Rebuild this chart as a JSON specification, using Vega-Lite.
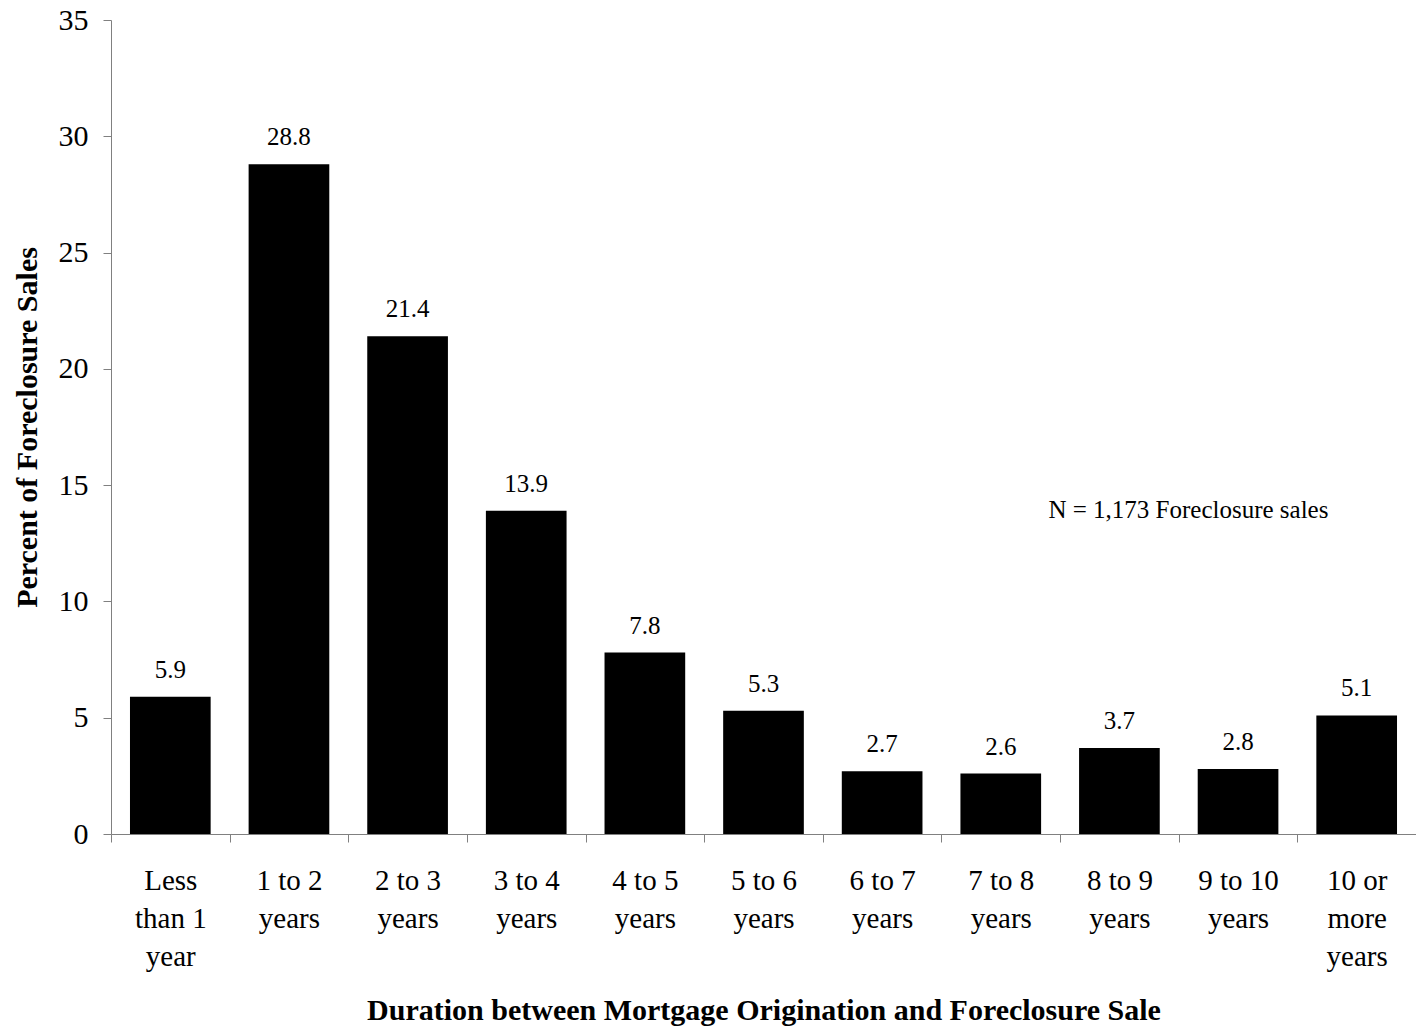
{
  "$schema": "https://vega.github.io/schema/vega-lite/v6.json",
  "width": 1305,
  "height": 814,
  "autosize": {"type": "none"},
  "padding": {"left": 111, "top": 20, "right": 0, "bottom": 194},
  "background": "white",
  "config": {
    "view": {"stroke": null},
    "font": "Liberation Serif",
    "axis": {"grid": false, "domainColor": "#808080", "tickColor": "#808080", "labelColor": "black", "titleColor": "black"}
  },
  "data": {
    "values": [
      {"duration": "Less|than 1|year", "pct": 5.9},
      {"duration": "1 to 2|years", "pct": 28.8},
      {"duration": "2 to 3|years", "pct": 21.4},
      {"duration": "3 to 4|years", "pct": 13.9},
      {"duration": "4 to 5|years", "pct": 7.8},
      {"duration": "5 to 6|years", "pct": 5.3},
      {"duration": "6 to 7|years", "pct": 2.7},
      {"duration": "7 to 8|years", "pct": 2.6},
      {"duration": "8 to 9|years", "pct": 3.7},
      {"duration": "9 to 10|years", "pct": 2.8},
      {"duration": "10 or|more|years", "pct": 5.1}
    ]
  },
  "encoding": {
    "x": {
      "field": "duration",
      "type": "nominal",
      "sort": null,
      "scale": {"paddingInner": 0, "paddingOuter": 0},
      "axis": {
        "title": "Duration between Mortgage Origination and Foreclosure Sale",
        "titleFont": "Liberation Serif",
        "titleFontSize": 30,
        "titleFontWeight": "bold",
        "titlePadding": 24,
        "labelExpr": "split(datum.label, '|')",
        "labelFont": "Liberation Serif",
        "labelFontSize": 29,
        "labelLineHeight": 38,
        "labelAngle": 0,
        "labelPadding": 24,
        "tickBand": "extent",
        "tickSize": 8,
        "labelBaseline": "top"
      }
    },
    "y": {
      "field": "pct",
      "type": "quantitative",
      "scale": {"domain": [0, 35], "nice": false},
      "axis": {
        "title": "Percent of Foreclosure Sales",
        "values": [0, 5, 10, 15, 20, 25, 30, 35],
        "titleFont": "Liberation Serif",
        "titleFontSize": 30,
        "titleFontWeight": "bold",
        "titlePadding": 16,
        "labelFont": "Liberation Serif",
        "labelFontSize": 30,
        "labelPadding": 15,
        "tickSize": 8
      }
    }
  },
  "layer": [
    {"mark": {"type": "bar", "color": "black", "width": {"band": 0.68}}},
    {
      "mark": {"type": "text", "font": "Liberation Serif", "fontSize": 25, "baseline": "alphabetic", "dy": -19, "color": "black"},
      "encoding": {"text": {"field": "pct", "type": "quantitative", "format": ".1f"}}
    },
    {
      "data": {"values": [{"duration": "8 to 9|years", "pct": 13.6, "note": "N = 1,173 Foreclosure sales"}]},
      "mark": {"type": "text", "font": "Liberation Serif", "fontSize": 25, "align": "left", "baseline": "alphabetic", "dx": -71, "color": "black"},
      "encoding": {"text": {"field": "note"}}
    }
  ]
}
